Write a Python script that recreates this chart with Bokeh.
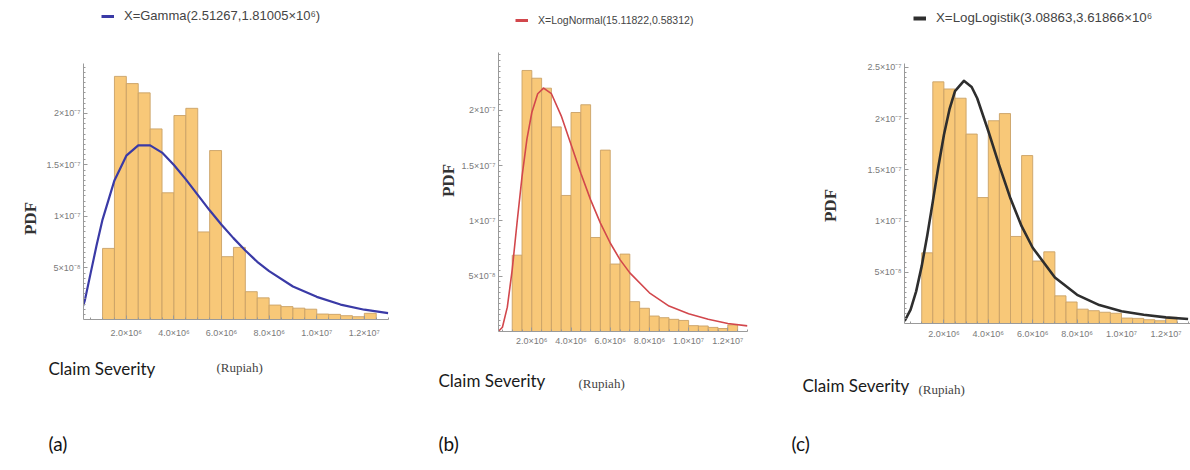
from math import pi
from bokeh.plotting import figure
from bokeh.layouts import row, column
from bokeh.models import (FixedTicker, CustomJSTickFormatter, Label, Legend,
                          LegendItem, Range1d)
from bokeh.embed import file_html
from bokeh.resources import INLINE

# ---------------- data ----------------
# histogram bins (millions of Rupiah) and densities (x 1e-7)
bin_edges_m = [1.0, 1.5, 2.0, 2.5, 3.0, 3.5, 4.0, 4.5, 5.0, 5.5, 6.0, 6.5,
               7.0, 7.5, 8.0, 8.5, 9.0, 9.5, 10.0, 10.5, 11.0, 11.5, 12.0, 12.5]
hist_density_e7 = [0.69, 2.36, 2.29, 2.20, 1.85, 1.23, 1.98, 2.05, 0.85, 1.64,
                   0.61, 0.70, 0.27, 0.21, 0.14, 0.125, 0.11, 0.10, 0.053,
                   0.05, 0.037, 0.027, 0.06]

# fitted curves (x in millions, pdf x 1e-7)
gamma_x_m = [0, 0.25, 0.5, 0.75, 1.0, 1.5, 2.0, 2.5, 3.0, 3.5, 4.0, 4.5, 5.0,
             5.5, 6.0, 6.5, 7.0, 7.5, 8.0, 9.0, 10.0, 11.0, 12.0, 13.0]
gamma_pdf_e7 = [0.0, 0.18, 0.45, 0.72, 0.97, 1.35, 1.59, 1.69, 1.69, 1.62,
                1.50, 1.36, 1.21, 1.06, 0.92, 0.79, 0.67, 0.56, 0.47, 0.32,
                0.22, 0.145, 0.095, 0.062]

lognorm_x_m = [0.3, 0.5, 0.75, 1.0, 1.25, 1.5, 1.75, 2.0, 2.3, 2.6, 3.0, 3.5,
               4.0, 4.5, 5.0, 5.5, 6.0, 6.5, 7.0, 8.0, 9.0, 10.0, 11.0, 12.0,
               13.0]
lognorm_pdf_e7 = [0.002, 0.039, 0.22, 0.56, 0.99, 1.40, 1.74, 1.98, 2.15, 2.20,
                  2.15, 1.95, 1.69, 1.43, 1.19, 0.98, 0.80, 0.65, 0.53, 0.35,
                  0.23, 0.16, 0.11, 0.073, 0.051]

loglog_x_m = [0, 0.25, 0.5, 0.75, 1.0, 1.25, 1.5, 1.75, 2.0, 2.25, 2.5, 2.9,
              3.25, 3.5, 4.0, 4.5, 5.0, 5.5, 6.0, 7.0, 8.0, 9.0, 10.0, 11.0,
              12.0, 13.0]
loglog_pdf_e7 = [0.0, 0.032, 0.136, 0.314, 0.56, 0.86, 1.19, 1.53, 1.84, 2.09,
                 2.27, 2.37, 2.31, 2.20, 1.88, 1.54, 1.22, 0.95, 0.74, 0.45,
                 0.28, 0.18, 0.12, 0.085, 0.060, 0.044]

# tick labels
x_tick_values = [2e6, 4e6, 6e6, 8e6, 1e7, 1.2e7]
x_tick_labels = ["2.0×10⁶", "4.0×10⁶", "6.0×10⁶", "8.0×10⁶", "1.0×10⁷", "1.2×10⁷"]
y_tick_values = [5e-8, 1e-7, 1.5e-7, 2e-7, 2.5e-7]
y_tick_labels = ["5×10⁻⁸", "1×10⁻⁷", "1.5×10⁻⁷", "2×10⁻⁷", "2.5×10⁻⁷"]

legend_texts = ["X=Gamma(2.51267,1.81005×10⁶)",
                "X=LogNormal(15.11822,0.58312)",
                "X=LogLogistik(3.08863,3.61866×10⁶"]
curve_colors = ["#3A3AA6", "#D2474C", "#2E2E2E"]
captions = ["(a)", "(b)", "(c)"]
xlab_main = "Claim Severity"
xlab_unit = "(Rupiah)"
ylab = "PDF"

# ---------------- layout constants ----------------
TOP_H = 45      # legend strip
MID_H = 307     # plots strip
BOT_H = 114     # axis titles / captions strip

BAR_FILL = "#F8C878"
BAR_LINE = "#C9A266"
AXIS_COL = "#9A9A9A"

fmt_code = """
for (let i = 0; i < vals.length; i++) {
  if (Math.abs(tick - vals[i]) <= 1e-6 * Math.abs(vals[i])) return labs[i];
}
return '';
"""


def blank(width, height, mbt=0, mbb=0):
    f = figure(width=width, height=height, output_backend="svg",
               toolbar_location=None, x_axis_location=None,
               y_axis_location=None, min_border=0,
               min_border_top=mbt, min_border_bottom=mbb,
               x_range=Range1d(0, 1), y_range=Range1d(0, 1))
    f.title.visible = False
    f.outline_line_color = None
    f.background_fill_color = "white"
    f.border_fill_color = "white"
    f.grid.visible = False
    return f


def plot_panel(width, mbl, mbr, mbt, mbb, xr, yr, n_yticks, cx, cy, color, lw,
               x_standoff):
    p = figure(width=width, height=MID_H, x_range=Range1d(*xr),
               y_range=Range1d(*yr), output_backend="svg",
               toolbar_location=None, min_border_left=mbl,
               min_border_right=mbr, min_border_top=mbt, min_border_bottom=mbb)
    p.title.visible = False
    p.outline_line_color = None
    p.grid.visible = False
    p.background_fill_color = "white"
    p.border_fill_color = "white"

    lefts = [e * 1e6 for e in bin_edges_m[:-1]]
    rights = [e * 1e6 for e in bin_edges_m[1:]]
    tops = [v * 1e-7 for v in hist_density_e7]
    p.quad(left=lefts, right=rights, bottom=0, top=tops,
           fill_color=BAR_FILL, line_color=BAR_LINE, line_width=0.9)
    p.line([v * 1e6 for v in cx], [v * 1e-7 for v in cy],
           line_color=color, line_width=lw, line_join="round")

    minor_x = [i * 5e5 for i in range(1, 27)]
    p.xaxis.ticker = FixedTicker(ticks=x_tick_values, minor_ticks=minor_x)
    p.xaxis.formatter = CustomJSTickFormatter(
        args=dict(vals=x_tick_values, labs=x_tick_labels), code=fmt_code)
    yv = y_tick_values[:n_yticks]
    minor_y = [i * 5e-9 for i in range(1, 52)]
    p.yaxis.ticker = FixedTicker(ticks=yv, minor_ticks=minor_y)
    p.yaxis.formatter = CustomJSTickFormatter(
        args=dict(vals=yv, labs=y_tick_labels[:n_yticks]), code=fmt_code)
    for ax in (p.xaxis, p.yaxis):
        ax.axis_label = None
        ax.axis_label_standoff = 0
        ax.axis_line_color = AXIS_COL
        ax.major_tick_line_color = AXIS_COL
        ax.minor_tick_line_color = AXIS_COL
        ax.major_tick_in = 4
        ax.major_tick_out = 0
        ax.minor_tick_in = 2
        ax.minor_tick_out = 0
        ax.major_label_text_font_size = "9px"
        ax.major_label_text_color = "#7A7A7A"
        ax.major_label_text_font = "Liberation Sans"
    p.yaxis.major_label_standoff = 3
    p.xaxis.major_label_standoff = x_standoff
    return p


def panel(idx, left_w, plot_w, mbl, mbr, mbt, mbb, xr, yr, n_yticks, cx, cy,
          lw, x_standoff, pdf_xy, leg_spec, bot_spec):
    """One sub-figure: legend strip, PDF strip + plot, title/caption strip.
    All text positions are given in page pixels measured from the panel's
    left edge (x) and from the page top (y)."""
    pw = left_w + plot_w
    p = plot_panel(plot_w, mbl, mbr, mbt, mbb, xr, yr, n_yticks, cx, cy,
                   curve_colors[idx], lw, x_standoff)

    # PDF label strip, same top/bottom borders as the plot
    lf = blank(left_w, MID_H, mbt, mbb)
    frame_bottom = TOP_H + MID_H - mbb
    lf.add_layout(Label(x=pdf_xy[0], y=frame_bottom - pdf_xy[1],
                        x_units="screen", y_units="screen", text=ylab,
                        angle=pi / 2, text_align="center",
                        text_baseline="middle", text_font="Liberation Serif",
                        text_font_style="bold", text_font_size="17px",
                        text_color="#333333"))

    # legend strip
    tf = blank(pw, TOP_H)
    lx, ly_center, fs, sw = leg_spec
    dummy = tf.line(x=[-30, -20], y=[-30, -20], line_color=curve_colors[idx],
                    line_width=sw)  # swatch source, outside the visible range
    leg = Legend(items=[LegendItem(label=legend_texts[idx], renderers=[dummy])],
                 location=(lx, TOP_H - ly_center - 8), padding=0, margin=0,
                 spacing=0, glyph_width=13, glyph_height=12, label_height=12,
                 label_standoff=10, label_text_font_size=fs,
                 label_text_color="#444444", label_text_font="Liberation Sans",
                 background_fill_alpha=0, border_line_alpha=0)
    tf.add_layout(leg)

    # axis title / caption strip
    bf = blank(pw, BOT_H)
    ybase = TOP_H + MID_H + BOT_H
    cs, rp, cp = bot_spec
    bf.add_layout(Label(x=cs[0], y=ybase - cs[1], x_units="screen",
                        y_units="screen", text=xlab_main,
                        text_baseline="middle", text_font="Lato",
                        text_font_size="17px", text_color="#1a1a1a"))
    bf.add_layout(Label(x=rp[0], y=ybase - rp[1], x_units="screen",
                        y_units="screen", text=xlab_unit,
                        text_baseline="middle", text_font="Liberation Serif",
                        text_font_size="13px", text_color="#444444"))
    bf.add_layout(Label(x=cp[0], y=ybase - cp[1], x_units="screen",
                        y_units="screen", text=captions[idx],
                        text_baseline="middle", text_font="Lato",
                        text_font_size="19px", text_color="#111111"))
    return column(tf, row(lf, p, spacing=0), bf, spacing=0)


col_a = panel(0, 38, 360, 45, 10, 18, 33, (2e5, 13.015e6), (0, 2.485e-7), 4,
              gamma_x_m, gamma_pdf_e7, 2.2, 8, (29.5, 218),
              (101, 15, "13px", 3.0),
              ((48, 368), (216, 367), (48, 443)))
col_b = panel(1, 60, 332, 40, 43, 7, 21, (3e5, 13.004e6), (0, 2.5226e-7), 4,
              lognorm_x_m, lognorm_pdf_e7, 1.6, 4, (50, 180),
              (117, 18, "10.5px", 3.0),
              ((40, 380), (180, 383), (40, 443)))
col_c = panel(2, 55, 345, 59, 0, 18, 29, (2.25e5, 13.108e6), (0, 2.539e-7), 5,
              loglog_x_m, loglog_pdf_e7, 2.6, 5, (40, 205),
              (123, 17, "13.3px", 4.0),
              ((12, 385), (128, 389), (1, 443)))

layout = row(col_a, col_b, col_c, spacing=0)
open("out.html", "w").write(file_html(layout, INLINE))
